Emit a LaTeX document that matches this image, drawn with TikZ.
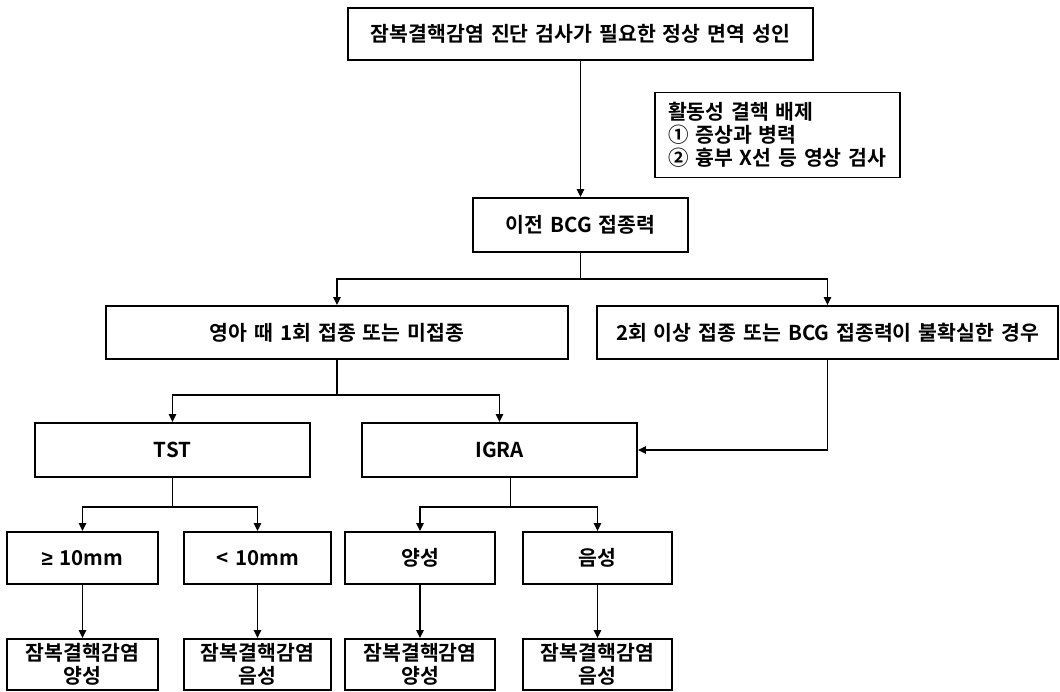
\documentclass[tikz,border=0pt]{standalone}
\usepackage{fontspec}
\setmainfont{Noto Sans CJK KR}[BoldFont={Noto Sans CJK KR Bold}, WordSpace=1.5]
\newfontfamily\geqfont{Liberation Sans}
\usetikzlibrary{arrows.meta}
\tikzset{
  box/.style={draw=black, line width=1.9pt, fill=white, inner sep=0pt, align=center,
    font=\fontsize{20.5}{22.5}\selectfont\bfseries},
  conn/.style={draw=black, line width=1.2pt},
  arr/.style={conn, -{Triangle[length=8pt,width=7.5pt]}}
}
\begin{document}
\begin{tikzpicture}[x=1pt,y=-1pt]
\useasboundingbox (0,0) rectangle (1060,692);
\fill[white] (0,0) rectangle (1060,692);
% nodes
\node[box, minimum width=465, minimum height=52] (top) at (580.5,34) {잠복결핵감염 진단 검사가 필요한 정상 면역 성인};
\node[box, minimum width=245, minimum height=85, text width=219, align=left, inner xsep=13pt,
  font=\fontsize{20.5}{23}\selectfont\bfseries] (note) at (777.5,135) {활동성 결핵 배제\\① 증상과 병력\\② 흉부 X선 등 영상 검사};
\node[box, minimum width=215, minimum height=54] (bcg) at (580.5,225) {이전 BCG 접종력};
\node[box, minimum width=462, minimum height=53] (young) at (337,332.5) {영아 때 1회 접종 또는 미접종};
\node[box, minimum width=461, minimum height=53] (two) at (827.5,332.5) {2회 이상 접종 또는 BCG 접종력이 불확실한 경우};
\node[box, minimum width=275, minimum height=54] (tst) at (172.5,450) {TST};
\node[box, minimum width=275, minimum height=54] (igra) at (499.5,450) {IGRA};
\node[box, minimum width=151, minimum height=52] (ge) at (82.5,558) {{\geqfont\bfseries ≥} 10mm};
\node[box, minimum width=147, minimum height=52] (lt) at (257.5,558) {< 10mm};
\node[box, minimum width=150, minimum height=52] (pos) at (420,558) {양성};
\node[box, minimum width=149, minimum height=52] (neg) at (597.5,558) {음성};
\node[box, minimum width=151, minimum height=51] (r1) at (82.5,664.5) {잠복결핵감염\\양성};
\node[box, minimum width=147, minimum height=51] (r2) at (257.5,664.5) {잠복결핵감염\\음성};
\node[box, minimum width=150, minimum height=51] (r3) at (420,664.5) {잠복결핵감염\\양성};
\node[box, minimum width=149, minimum height=51] (r4) at (597.5,664.5) {잠복결핵감염\\음성};
% connectors
\draw[arr] (top.south) -- (bcg.north);
\draw[conn] (bcg.south) -- ++(0,26) coordinate (j1);
\draw[arr] (j1) -| (young.north);
\draw[arr] (j1) -| (two.north);
\draw[conn] (young.south) -- ++(0,35) coordinate (j2);
\draw[arr] (j2) -| (tst.north);
\draw[arr] (j2) -| (igra.north);
\draw[arr] (two.south) |- (igra.east);
\draw[conn] (tst.south) -- ++(0,29) coordinate (j3);
\draw[arr] (j3) -| (ge.north);
\draw[arr] (j3) -| (lt.north);
\draw[conn] ([xshift=11pt]igra.south) -- ++(0,29) coordinate (j4);
\draw[arr] (j4) -| (pos.north);
\draw[arr] (j4) -| (neg.north);
\draw[arr] (ge.south) -- (r1.north);
\draw[arr] (lt.south) -- (r2.north);
\draw[arr] (pos.south) -- (r3.north);
\draw[arr] (neg.south) -- (r4.north);
\end{tikzpicture}
\end{document}
